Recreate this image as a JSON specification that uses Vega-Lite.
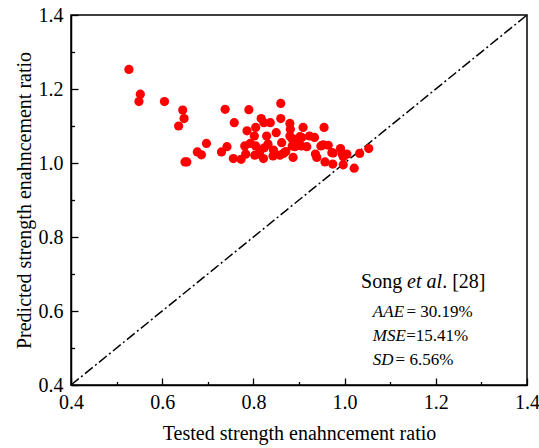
{
  "$schema": "https://vega.github.io/schema/vega-lite/v6.json",
  "width": 456,
  "height": 370,
  "autosize": {"type": "none"},
  "padding": {"left": 71, "top": 15, "right": 12, "bottom": 63},
  "background": "white",
  "config": {
    "view": {"stroke": "black", "strokeWidth": 1.5},
    "font": "Liberation Serif",
    "axis": {
      "grid": false,
      "domainColor": "black",
      "domainWidth": 1.5,
      "tickColor": "black",
      "tickWidth": 1.3,
      "labelFont": "Liberation Serif",
      "labelFontSize": 20,
      "labelColor": "black",
      "titleFont": "Liberation Serif",
      "titleFontSize": 20,
      "titleFontWeight": "normal",
      "titleColor": "black"
    }
  },
  "datasets": {
    "points": [
      {"x": 0.527, "y": 1.253}, {"x": 0.552, "y": 1.186}, {"x": 0.549, "y": 1.166}, {"x": 0.605, "y": 1.166},
      {"x": 0.645, "y": 1.143}, {"x": 0.648, "y": 1.120}, {"x": 0.636, "y": 1.100}, {"x": 0.650, "y": 1.003},
      {"x": 0.654, "y": 1.003}, {"x": 0.677, "y": 1.030}, {"x": 0.686, "y": 1.022}, {"x": 0.697, "y": 1.053},
      {"x": 0.730, "y": 1.030}, {"x": 0.738, "y": 1.145}, {"x": 0.742, "y": 1.044}, {"x": 0.758, "y": 1.109},
      {"x": 0.756, "y": 1.012}, {"x": 0.773, "y": 1.010}, {"x": 0.781, "y": 1.046}, {"x": 0.786, "y": 1.087},
      {"x": 0.790, "y": 1.144}, {"x": 0.783, "y": 1.024}, {"x": 0.793, "y": 1.053}, {"x": 0.802, "y": 1.073},
      {"x": 0.805, "y": 1.096}, {"x": 0.817, "y": 1.120}, {"x": 0.823, "y": 1.109}, {"x": 0.805, "y": 1.046},
      {"x": 0.813, "y": 1.024}, {"x": 0.822, "y": 1.012}, {"x": 0.815, "y": 1.035}, {"x": 0.803, "y": 1.021},
      {"x": 0.829, "y": 1.073}, {"x": 0.832, "y": 1.051}, {"x": 0.837, "y": 1.109}, {"x": 0.843, "y": 1.019},
      {"x": 0.844, "y": 1.035}, {"x": 0.850, "y": 1.082}, {"x": 0.860, "y": 1.161}, {"x": 0.860, "y": 1.120},
      {"x": 0.862, "y": 1.055}, {"x": 0.858, "y": 1.021}, {"x": 0.866, "y": 1.026}, {"x": 0.880, "y": 1.107},
      {"x": 0.881, "y": 1.091}, {"x": 0.880, "y": 1.073}, {"x": 0.884, "y": 1.067}, {"x": 0.885, "y": 1.046},
      {"x": 0.887, "y": 1.015}, {"x": 0.891, "y": 1.044}, {"x": 0.896, "y": 1.064}, {"x": 0.902, "y": 1.071},
      {"x": 0.905, "y": 1.046}, {"x": 0.909, "y": 1.096}, {"x": 0.906, "y": 1.069}, {"x": 0.917, "y": 1.044},
      {"x": 0.923, "y": 1.073}, {"x": 0.934, "y": 1.069}, {"x": 0.936, "y": 1.024}, {"x": 0.939, "y": 1.015},
      {"x": 0.948, "y": 1.046}, {"x": 0.955, "y": 1.096}, {"x": 0.957, "y": 1.003}, {"x": 0.964, "y": 1.048},
      {"x": 0.972, "y": 1.028}, {"x": 0.974, "y": 0.997}, {"x": 0.991, "y": 1.039}, {"x": 0.995, "y": 1.024},
      {"x": 0.997, "y": 0.995}, {"x": 1.005, "y": 1.024}, {"x": 1.021, "y": 0.986}, {"x": 1.033, "y": 1.026},
      {"x": 1.053, "y": 1.039}, {"x": 0.871, "y": 1.031}, {"x": 0.824, "y": 1.041}, {"x": 0.975, "y": 1.027},
      {"x": 0.997, "y": 1.017}, {"x": 0.953, "y": 1.049}
    ],
    "diagonal": [{"x": 0.4, "y": 0.4}, {"x": 1.4, "y": 1.4}],
    "songNormal": [
      {"x": 1.036, "y": 0.678, "label": "Song"},
      {"x": 1.214, "y": 0.678, "label": ". [28]"}
    ],
    "songItalic": [
      {"x": 1.137, "y": 0.678, "label": "et al"}
    ],
    "statItalic": [
      {"x": 1.062, "y": 0.597, "label": "AAE"},
      {"x": 1.062, "y": 0.532, "label": "MSE"},
      {"x": 1.062, "y": 0.468, "label": "SD"}
    ],
    "statNormal": [
      {"x": 1.1358, "y": 0.597, "label": "= 30.19%"},
      {"x": 1.135, "y": 0.532, "label": "=15.41%"},
      {"x": 1.1118, "y": 0.468, "label": "= 6.56%"}
    ]
  },
  "encoding": {
    "x": {
      "field": "x",
      "type": "quantitative",
      "scale": {"domain": [0.4, 1.4], "nice": false, "zero": false},
      "axis": {
        "title": "Tested strength enahncement ratio",
        "values": [0.4, 0.5, 0.6, 0.7, 0.8, 0.9, 1.0, 1.1, 1.2, 1.3, 1.4],
        "labelExpr": "round(datum.value*10) % 2 == 0 ? format(datum.value, '.1f') : ''",
        "labelFont": "Liberation Serif",
        "tickSize": {"condition": {"test": "round(datum.value*10) % 2 == 0", "value": -7}, "value": -3.5},
        "labelPadding": 14,
        "titlePadding": 11,
        "labelFlush": false
      }
    },
    "y": {
      "field": "y",
      "type": "quantitative",
      "scale": {"domain": [0.4, 1.4], "nice": false, "zero": false},
      "axis": {
        "title": "Predicted strength enahncement ratio",
        "values": [0.4, 0.5, 0.6, 0.7, 0.8, 0.9, 1.0, 1.1, 1.2, 1.3, 1.4],
        "labelExpr": "round(datum.value*10) % 2 == 0 ? format(datum.value, '.1f') : ''",
        "labelFont": "Liberation Serif",
        "tickSize": {"condition": {"test": "round(datum.value*10) % 2 == 0", "value": -7}, "value": -3.5},
        "labelPadding": 15,
        "titlePadding": 4,
        "labelFlush": false
      }
    }
  },
  "layer": [
    {
      "data": {"name": "diagonal"},
      "mark": {"type": "line", "color": "black", "strokeWidth": 1.5, "strokeDash": [10, 3, 2, 3]},
      "encoding": {}
    },
    {
      "data": {"name": "points"},
      "mark": {"type": "circle", "color": "#ff0000", "opacity": 1, "size": 85},
      "encoding": {}
    },
    {
      "data": {"name": "songNormal"},
      "mark": {"type": "text", "align": "left", "baseline": "middle", "fontSize": 20, "color": "black", "font": "Liberation Serif"},
      "encoding": {"text": {"field": "label"}}
    },
    {
      "data": {"name": "songItalic"},
      "mark": {"type": "text", "align": "left", "baseline": "middle", "fontSize": 20, "fontStyle": "italic", "color": "black", "font": "Liberation Serif"},
      "encoding": {"text": {"field": "label"}}
    },
    {
      "data": {"name": "statItalic"},
      "mark": {"type": "text", "align": "left", "baseline": "middle", "fontSize": 17, "fontStyle": "italic", "color": "black", "font": "Liberation Serif"},
      "encoding": {"text": {"field": "label"}}
    },
    {
      "data": {"name": "statNormal"},
      "mark": {"type": "text", "align": "left", "baseline": "middle", "fontSize": 17, "color": "black", "font": "Liberation Serif"},
      "encoding": {"text": {"field": "label"}}
    }
  ]
}
